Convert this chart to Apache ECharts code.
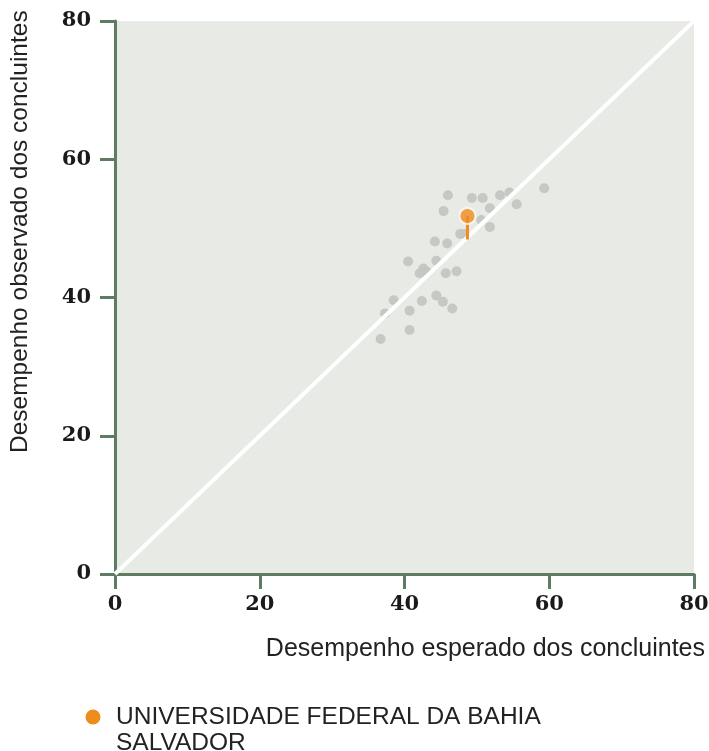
<!DOCTYPE html>
<html><head><meta charset="utf-8">
<script src="https://cdn.jsdelivr.net/npm/echarts@6/dist/echarts.min.js"></script>
<style>html,body{margin:0;padding:0;background:#fff}#c{width:709px;height:751px}</style>
</head><body><div id="c"></div>
<script>
const xTicks = [0, 20, 40, 60, 80];
const otherX = [46.0,49.3,50.8,53.2,54.5,59.3,55.5,45.4,51.8,50.6,51.8,47.7,48.3,44.2,45.9,40.5,44.4,42.6,42.1,43.0,45.7,47.2,38.5,42.4,44.4,45.3,46.6,40.7,40.7,36.7,37.3];
const otherY = [54.8,54.4,54.4,54.8,55.2,55.8,53.5,52.5,52.9,51.2,50.2,49.2,49.2,48.1,47.8,45.2,45.3,44.2,43.5,43.8,43.5,43.8,39.6,39.5,40.3,39.4,38.4,38.1,35.3,34.0,37.7];
const ufbaName = 'UNIVERSIDADE FEDERAL DA BAHIA';
const ufbaCity = 'SALVADOR';
const ufbaX = 48.7;
const ufbaY = 51.8;
const diagonal = [0, 80];
const xTitle = 'Desempenho esperado dos concluintes';
const yTitle = 'Desempenho observado dos concluintes';

const chart = echarts.init(document.getElementById('c'));
const axisCommon = {
  type: 'value', min: 0, max: 80, interval: 20,
  axisLine: {show: true, onZero: false, lineStyle: {color: '#5e7c62', width: 3}},
  axisTick: {show: true, length: 15, lineStyle: {color: '#5e7c62', width: 3}},
  splitLine: {show: false},
  axisLabel: {fontFamily: 'DejaVu Serif', fontWeight: 'bold', fontSize: 21, color: '#1a1a1a'}
};
chart.setOption({
  animation: false,
  grid: {left: 115, right: 15, top: 21, bottom: 177, show: true, backgroundColor: '#e8eae6', borderWidth: 0,
         containLabel: false, outerBoundsMode: 'none'},
  xAxis: Object.assign({}, axisCommon, {axisLabel: Object.assign({}, axisCommon.axisLabel, {margin: 20})}),
  yAxis: Object.assign({}, axisCommon, {axisLabel: Object.assign({}, axisCommon.axisLabel, {margin: 24})}),
  series: [
    {type: 'scatter', symbolSize: 10, itemStyle: {color: '#c3c6c1', opacity: 0.95},
     data: otherX.map((x, i) => [x, otherY[i]]), z: 2},
    {type: 'line', data: diagonal.map(v => [v, v]), symbol: 'none', lineStyle: {color: '#ffffff', width: 4}, z: 3},
    {type: 'line', data: [[ufbaX, ufbaY], [ufbaX, ufbaX - 0.3]], symbol: 'none', lineStyle: {color: '#ef8c1e', width: 3}, z: 4},
    {type: 'scatter', name: ufbaName, data: [[ufbaX, ufbaY]], symbolSize: 16,
     itemStyle: {color: '#ef8c1e', borderColor: '#ffffff', borderWidth: 2}, z: 5}
  ],
  graphic: [
    {type: 'text', x: 8, y: 453, rotation: Math.PI / 2, style: {text: yTitle, fontFamily: 'Liberation Sans', fontSize: 24.5, fill: '#222'}},
    {type: 'text', right: 4, top: 637, style: {text: xTitle, fontFamily: 'Liberation Sans', fontSize: 25, fill: '#222'}},
    {type: 'circle', shape: {cx: 93, cy: 717, r: 7.5}, style: {fill: '#ef8c1e'}},
    {type: 'text', left: 116, top: 704, style: {text: ufbaName + '\n' + ufbaCity, fontFamily: 'Liberation Sans', fontSize: 24.5, lineHeight: 26, fill: '#222'}}
  ]
});
</script></body></html>
